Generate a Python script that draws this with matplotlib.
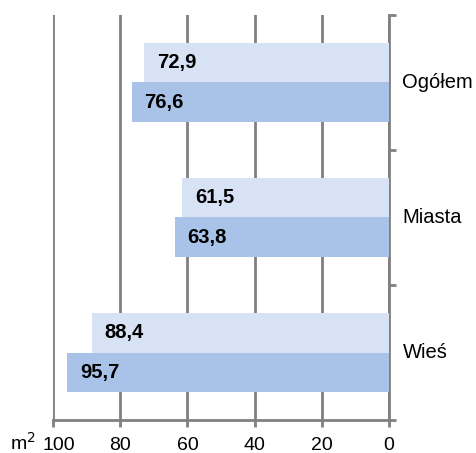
import matplotlib.pyplot as plt
import matplotlib.transforms as mtransforms
import numpy as np

plt.rcParams['font.family'] = ['Liberation Sans', 'DejaVu Sans']

# average usable floor area of a dwelling, m2
categories = ['Wieś', 'Miasta', 'Ogółem']
series_a = [88.4, 61.5, 72.9]
series_b = [95.7, 63.8, 76.6]
xticks = [100, 80, 60, 40, 20, 0]

color_a = '#D7E3F4'
color_b = '#A9C3E8'
grid_color = '#808080'
fs = 14.5

fig = plt.figure(figsize=(4.77, 4.53), dpi=100)
ax = fig.add_axes([53 / 477, 33 / 453, 336 / 477, 405 / 453])

y = np.arange(len(categories))
h = 0.29
ax.barh(y + h / 2, series_a, height=h, color=color_a, zorder=3)
ax.barh(y - h / 2, series_b, height=h, color=color_b, zorder=3)

def fmt(v):
    return f'{v:.1f}'.replace('.', ',')

for yi, va, vb in zip(y, series_a, series_b):
    ax.text(va - 3.8, yi + h / 2, fmt(va), ha='left', va='center',
            fontsize=fs, fontweight='bold', zorder=4)
    ax.text(vb - 3.8, yi - h / 2, fmt(vb), ha='left', va='center',
            fontsize=fs, fontweight='bold', zorder=4)

ax.set_xlim(100, 0)
ax.set_ylim(-0.5, 2.5)

ax.set_xticks(xticks)
ax.set_xticklabels([str(t) for t in xticks], fontsize=14)
ax.xaxis.grid(True, color=grid_color, linewidth=2, zorder=1)
ax.tick_params(axis='x', length=5, width=2, color=grid_color, pad=7.5)
# nudge the outermost label a little to the right
lbl = ax.xaxis.get_major_ticks()[0].label1
lbl.set_transform(lbl.get_transform() +
                  mtransforms.ScaledTranslation(6 / 100, 0, fig.dpi_scale_trans))

# category axis sits on the right at zero
ax.yaxis.tick_right()
ax.set_yticks([-0.5, 0.5, 1.5, 2.5])
ax.set_yticklabels([])
ax.tick_params(axis='y', length=5, width=2, color=grid_color)
for yi, name in zip(y, categories):
    ax.text(1.04, (yi + 0.5) / 3, name, transform=ax.transAxes,
            ha='left', va='center', fontsize=fs)

for side in ['top', 'left']:
    ax.spines[side].set_visible(False)
for side in ['right', 'bottom']:
    ax.spines[side].set_color(grid_color)
    ax.spines[side].set_linewidth(2)

fig.text(10 / 477, 1 - 443 / 453, 'm$^2$', fontsize=14, va='center', ha='left')

fig.savefig('out.png', dpi=100)
